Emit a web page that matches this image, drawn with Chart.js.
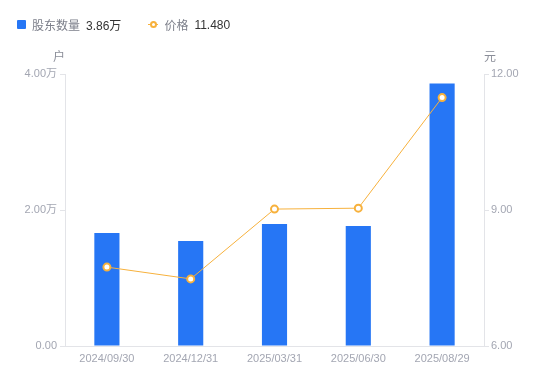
<!DOCTYPE html>
<html>
<head>
<meta charset="utf-8">
<script src="https://cdn.jsdelivr.net/npm/chart.js@4.4.1/dist/chart.umd.min.js"></script>
<style>
    html, body { margin: 0; padding: 0; background: #fff; }
    #wrap { position: relative; width: 550px; height: 381px; }
    #legend { position: absolute; top: 16px; left: 17px; font: 12px 'Liberation Sans', 'Noto Sans CJK SC', sans-serif; display: flex; align-items: center; }
    .item { display: flex; align-items: center; margin-right: 27px; }
    .sq { width: 9px; height: 9px; background: #2676f5; border-radius: 1px; margin-right: 6px; }
    .ln { position: relative; width: 10px; height: 9px; margin-right: 6px; }
    .ln:before { content: ''; position: absolute; left: 0; right: 0; top: 4px; height: 1px; background: #f7b13c; }
    .ln:after { content: ''; position: absolute; left: 2px; top: 1px; width: 3px; height: 3px; border: 2px solid #f7b13c; border-radius: 50%; background: #fff; }
    .name { color: #7c7f8a; margin-right: 6px; }
    .val { color: #333; }
</style>
</head>
<body>
<div id="wrap">
    <div id="legend">
        <div class="item"><span class="sq"></span><span class="name">股东数量</span><span class="val" id="v1"></span></div>
        <div class="item"><span class="ln"></span><span class="name">价格</span><span class="val" id="v2"></span></div>
    </div>
    <canvas id="chart" width="550" height="381"></canvas>
</div>
<script>
const dates = ['2024/09/30', '2024/12/31', '2025/03/31', '2025/06/30', '2025/08/29'];
const holders = [16600, 15450, 17950, 17650, 38600];
const prices = [7.74, 7.48, 9.02, 9.04, 11.48];
const leftTicks = [0, 20000, 40000];
const rightTicks = [6, 9, 12];

const font = "'Liberation Sans', 'Noto Sans CJK SC', sans-serif";
const tickColor = '#a3a6b2';
const lineColor = '#e3e4e8';

document.getElementById('v1').textContent = (holders[holders.length - 1] / 10000).toFixed(2) + '万';
document.getElementById('v2').textContent = prices[prices.length - 1].toFixed(3);

// 轴单位
const unitTitles = {
    id: 'unitTitles',
    afterDraw(chart) {
        const c = chart.ctx;
        const area = chart.chartArea;
        c.save();
        c.font = '12px ' + font;
        c.fillStyle = '#8a8d98';
        c.textAlign = 'center';
        c.textBaseline = 'middle';
        c.fillText('户', area.left - 6, area.top - 16);
        c.fillText('元', area.right + 6, area.top - 16);
        c.restore();
    }
};

function fmtLeft(v) {
    if (v === 0) return '0.00';
    return (v / 10000).toFixed(2) + '万';
}

new Chart(document.getElementById('chart'), {
    data: {
        labels: dates,
        datasets: [
            {
                type: 'line',
                label: '价格',
                data: prices,
                yAxisID: 'y1',
                borderColor: '#f7b13c',
                borderWidth: 1,
                pointRadius: 3.5,
                pointBorderWidth: 2,
                pointBackgroundColor: '#fff',
                pointBorderColor: '#f7b13c',
                tension: 0
            },
            {
                type: 'bar',
                label: '股东数量',
                data: holders,
                yAxisID: 'y',
                backgroundColor: '#2676f5',
                categoryPercentage: 1,
                barPercentage: 0.3
            }
        ]
    },
    options: {
        responsive: false,
        animation: false,
        layout: { padding: { top: 74, left: 0, right: 0, bottom: 0 } },
        plugins: { legend: { display: false }, tooltip: { enabled: false } },
        scales: {
            x: {
                grid: { display: false, drawTicks: false },
                border: { color: lineColor },
                ticks: { color: tickColor, font: { size: 11, family: font }, padding: 6, maxRotation: 0 },
                afterFit(s) { s.height = 35; }
            },
            y: {
                position: 'left',
                min: 0, max: 40000,
                grid: { drawOnChartArea: false, color: lineColor, tickLength: 5 },
                border: { color: lineColor },
                afterBuildTicks(s) { s.ticks = leftTicks.map(v => ({ value: v })); },
                ticks: { color: tickColor, font: { size: 11, family: font }, padding: 3, callback: v => fmtLeft(v) },
                afterFit(s) { s.width = 65; }
            },
            y1: {
                position: 'right',
                min: 6, max: 12,
                grid: { drawOnChartArea: false, color: lineColor, tickLength: 5 },
                border: { color: lineColor },
                afterBuildTicks(s) { s.ticks = rightTicks.map(v => ({ value: v })); },
                ticks: { color: tickColor, font: { size: 11, family: font }, padding: 2, callback: v => Number(v).toFixed(2) },
                afterFit(s) { s.width = 66; }
            }
        }
    },
    plugins: [unitTitles]
});
</script>
</body>
</html>
